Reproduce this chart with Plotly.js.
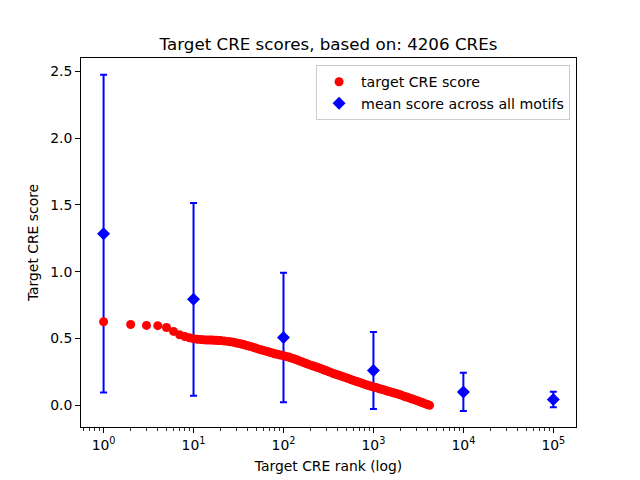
<!DOCTYPE html>
<html>
<head>
<meta charset="utf-8">
<script src="https://cdn.plot.ly/plotly-3.0.1.min.js"></script>
<style>html,body{margin:0;padding:0;background:#fff;}#chart{width:640px;height:480px;}</style>
</head>
<body>
<div id="chart"></div>
<script>
var creRanks = [1,2,3,4,5,6,7,8,9,10,11,12,13,14,15,16,17,18,19,20,22,24,26,28,30,32,34,36,38,40,43,46,49,52,56,60,64,68,72,76,80,85,90,95,101,107,114,120,128,135,143,150,160,170,180,190,202,215,228,240,255,270,285,300,320,340,360,380,405,430,455,480,510,540,570,600,640,680,720,760,805,850,900,950,1010,1070,1130,1200,1270,1350,1420,1500,1600,1700,1800,1900,2020,2150,2270,2400,2550,2700,2850,3000,3200,3400,3600,3800,4000,4206];
var creScores = [0.625,0.605,0.598,0.596,0.582,0.553,0.528,0.515,0.505,0.498,0.494,0.492,0.490,0.489,0.488,0.488,0.487,0.486,0.485,0.484,0.481,0.478,0.475,0.471,0.466,0.463,0.459,0.455,0.450,0.446,0.440,0.434,0.428,0.422,0.416,0.410,0.405,0.400,0.395,0.390,0.386,0.382,0.378,0.374,0.370,0.366,0.361,0.356,0.350,0.344,0.338,0.332,0.325,0.318,0.312,0.306,0.300,0.294,0.288,0.283,0.277,0.270,0.264,0.258,0.251,0.244,0.238,0.232,0.226,0.220,0.214,0.209,0.203,0.197,0.191,0.186,0.180,0.174,0.168,0.162,0.156,0.151,0.146,0.142,0.137,0.132,0.127,0.122,0.117,0.112,0.107,0.102,0.097,0.092,0.087,0.082,0.076,0.070,0.064,0.059,0.053,0.047,0.042,0.036,0.029,0.022,0.016,0.010,0.005,0.000];

// Mean score across all motifs
var motifRanks = [1,10,100,1000,10000,100000];
var motifMeans = [1.285,0.793,0.508,0.260,0.100,0.043];
var motifErr = [1.19,0.722,0.485,0.288,0.143,0.058];

var xTickVals = [1,10,100,1000,10000,100000];
var xTickText = ['10<sup>0</sup>','10<sup>1</sup>','10<sup>2</sup>','10<sup>3</sup>','10<sup>4</sup>','10<sup>5</sup>'];
var yTickVals = [0,0.5,1.0,1.5,2.0,2.5];

var minorVals = [];
for (var d = -1; d <= 5; d++) {
  for (var m = 2; m <= 9; m++) minorVals.push(m * Math.pow(10, d));
}

var font = 'DejaVu Sans, sans-serif';

var traces = [
  {
    x: motifRanks, y: motifMeans, type: 'scatter', mode: 'markers',
    name: 'mean score across all motifs',
    marker: {symbol: 'diamond', size: 10, color: '#0000ff'},
    error_y: {type: 'data', array: motifErr, visible: true, color: '#0000ff', thickness: 2, width: 3.5},
    legendrank: 2
  },
  {
    x: creRanks, y: creScores, type: 'scatter', mode: 'markers',
    name: 'target CRE score',
    marker: {symbol: 'circle', size: 9, color: '#ff0000'},
    legendrank: 1
  }
];

var layout = {
  width: 640, height: 480,
  margin: {l: 81, r: 64, t: 58, b: 53},
  paper_bgcolor: '#fff', plot_bgcolor: '#fff',
  font: {family: font, size: 13.9, color: '#000'},
  title: {text: 'Target CRE scores, based on: 4206 CREs', font: {family: font, size: 16.7, color: '#000'},
          x: 0.5, xref: 'paper', y: 1 - 44/480, yref: 'container', yanchor: 'middle'},
  showlegend: true,
  legend: {x: 0.988, xanchor: 'right', y: 0.981, yanchor: 'top', bgcolor: 'rgba(255,255,255,0.8)',
           bordercolor: '#cccccc', borderwidth: 1, font: {family: font, size: 14.2, color: '#000'},
           itemwidth: 34},
  xaxis: {
    type: 'log', range: [-0.251, 5.252],
    tickmode: 'array', tickvals: xTickVals, ticktext: xTickText,
    ticks: 'outside', ticklen: 5, tickwidth: 1, tickcolor: '#000',
    minor: {tickmode: 'array', tickvals: minorVals, ticks: 'outside', ticklen: 3, tickwidth: 0.8, tickcolor: '#000', showgrid: false},
    showline: true, mirror: true, linecolor: '#000', linewidth: 1,
    showgrid: false, zeroline: false,
    tickfont: {family: font, size: 13.9, color: '#000'},
    title: {text: 'Target CRE rank (log)', font: {family: font, size: 13.9, color: '#000'}, standoff: 9}
  },
  yaxis: {
    range: [-0.163, 2.601],
    tickmode: 'array', tickvals: yTickVals, tickformat: '.1f',
    ticks: 'outside', ticklen: 5, tickwidth: 1, tickcolor: '#000',
    showline: true, mirror: true, linecolor: '#000', linewidth: 1,
    showgrid: false, zeroline: false,
    tickfont: {family: font, size: 13.9, color: '#000'},
    title: {text: 'Target CRE score', font: {family: font, size: 13.9, color: '#000'}, standoff: 8}
  }
};

Plotly.newPlot('chart', traces, layout, {displayModeBar: false, staticPlot: true});
</script>
</body>
</html>
